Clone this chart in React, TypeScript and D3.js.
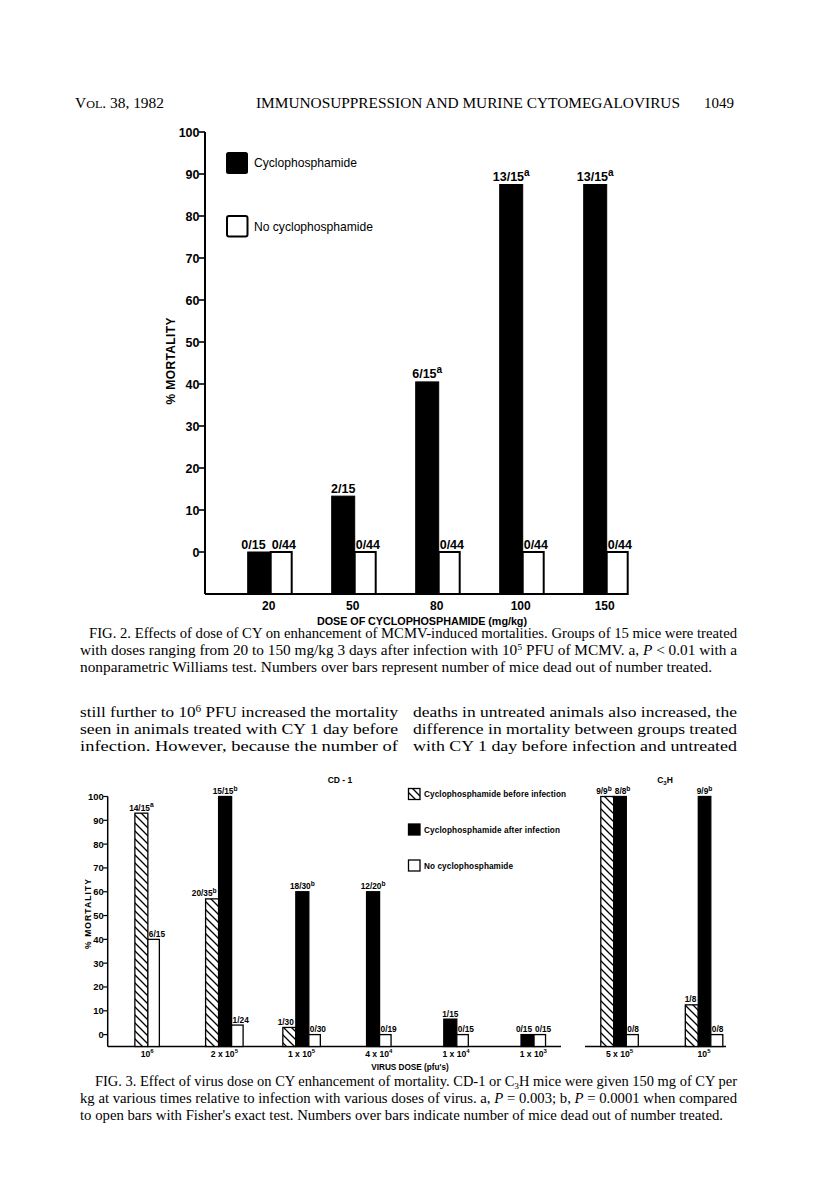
import React from "react";
import * as d3 from "d3";

const SANS = "'Liberation Sans', Arial, Helvetica, sans-serif";
const SERIF = "'Liberation Serif', 'Times New Roman', serif";

// ---------------- FIG. 2 data ----------------
const fig2Doses = ["20", "50", "80", "100", "150"];
const fig2CyValues = [0, 13.3, 40.5, 87.5, 87.5];
const fig2CyLabels = ["0/15", "2/15", "6/15", "13/15", "13/15"];
const fig2CySups = ["", "", "a", "a", "a"];
const fig2NoCyValues = [0, 0, 0, 0, 0];
const fig2NoCyLabels = ["0/44", "0/44", "0/44", "0/44", "0/44"];
const fig2NoCySups = ["", "", "", "", ""];
const fig2YTicks = [0, 10, 20, 30, 40, 50, 60, 70, 80, 90, 100];

// ---------------- FIG. 3 data ----------------
const cd1DoseBase = ["10", "2 x 10", "1 x 10", "4 x 10", "1 x 10", "1 x 10"];
const cd1DoseExp = ["6", "5", "5", "4", "4", "3"];
const cd1Before: (number | null)[] = [93, 57, 3, null, null, null];
const cd1BeforeLabels = ["14/15", "20/35", "1/30", "", "", ""];
const cd1BeforeSups = ["a", "b", "", "", "", ""];
const cd1After: (number | null)[] = [null, 100, 60, 60, 6.5, 0];
const cd1AfterLabels = ["", "15/15", "18/30", "12/20", "1/15", "0/15"];
const cd1AfterSups = ["", "b", "b", "b", "", ""];
const cd1None: (number | null)[] = [40, 4, 0, 0, 0, 0];
const cd1NoneLabels = ["6/15", "1/24", "0/30", "0/19", "0/15", "0/15"];
const cd1NoneSups = ["", "", "", "", "", ""];

const c3hDoseBase = ["5 x 10", "10"];
const c3hDoseExp = ["5", "5"];
const c3hBefore: (number | null)[] = [100, 12.5];
const c3hBeforeLabels = ["9/9", "1/8"];
const c3hBeforeSups = ["b", ""];
const c3hAfter: (number | null)[] = [100, 100];
const c3hAfterLabels = ["8/8", "9/9"];
const c3hAfterSups = ["b", "b"];
const c3hNone: (number | null)[] = [0, 0];
const c3hNoneLabels = ["0/8", "0/8"];
const c3hNoneSups = ["", ""];

const fig3YTicks = [0, 10, 20, 30, 40, 50, 60, 70, 80, 90, 100];

type Bar = {
  kind: string;
  value: number;
  label: string;
  sup: string;
  x0: number;
  x1: number;
};

function labelPos(bars: Bar[], i: number, gap: number) {
  const b = bars[i];
  const next = bars[i + 1];
  const prev = bars[i - 1];
  if (next && next.value >= b.value) return { x: b.x1 - gap, anchor: "end" };
  if (prev && prev.value >= b.value) return { x: b.x0 + 1, anchor: "start" };
  return { x: (b.x0 + b.x1) / 2, anchor: "middle" };
}

function Label({ x, y, anchor, text, sup, fs }: any) {
  return (
    <text x={x} y={y} textAnchor={anchor} fontFamily={SANS} fontWeight="bold" fontSize={fs}>
      {text}
      {sup ? (
        <tspan dy={-fs * 0.42} fontSize={fs * 0.8}>
          {sup}
        </tspan>
      ) : null}
    </text>
  );
}

// ---------------- FIG. 2 ----------------
function Fig2() {
  const y = d3.scaleLinear().domain([-10, 100]).range([594, 132]);
  const x = d3.scaleBand().domain(fig2Doses).range([228.7, 648.7]).padding(0);
  const axisX = 205;
  const fs = 12.5;
  const groups = fig2Doses.map((d, i) => {
    const c = (x(d) as number) + x.bandwidth() / 2;
    const bars: Bar[] = [
      { kind: "cy", value: fig2CyValues[i], label: fig2CyLabels[i], sup: fig2CySups[i], x0: c - 23, x1: c },
      { kind: "no", value: fig2NoCyValues[i], label: fig2NoCyLabels[i], sup: fig2NoCySups[i], x0: c, x1: c + 21 },
    ];
    return { d, c, bars };
  });
  const lastRight = groups[groups.length - 1].bars[1].x1;
  return (
    <g>
      <line x1={axisX} x2={axisX} y1={y(100)} y2={y(-10)} stroke="#000" strokeWidth={2} />
      {fig2YTicks.map((t) => (
        <g key={t}>
          <line x1={axisX - 6} x2={axisX} y1={y(t)} y2={y(t)} stroke="#000" strokeWidth={1.6} />
          <text x={axisX - 5.5} y={y(t)} dy="0.36em" textAnchor="end" fontFamily={SANS} fontWeight="bold" fontSize={fs}>
            {t}
          </text>
        </g>
      ))}
      <text
        transform={`translate(175,${361}) rotate(-90)`}
        textAnchor="middle"
        fontFamily={SANS}
        fontWeight="bold"
        fontSize={12}
        textLength={87}
        lengthAdjust="spacing"
      >
        % MORTALITY
      </text>
      {groups.map((g) =>
        g.bars.map((b) => (
          <rect
            key={g.d + b.kind}
            x={b.x0}
            y={y(b.value)}
            width={b.x1 - b.x0}
            height={y(-10) - y(b.value)}
            fill={b.kind === "cy" ? "#000" : "#fff"}
            stroke="#000"
            strokeWidth={b.kind === "cy" ? 1 : 2}
          />
        ))
      )}
      {groups.map((g) =>
        g.bars.map((b, j) => {
          const p = labelPos(g.bars, j, 5);
          return <Label key={"l" + g.d + b.kind} x={p.x} y={y(b.value) - 3.5} anchor={p.anchor} text={b.label} sup={b.sup} fs={fs} />;
        })
      )}
      <line x1={axisX} x2={lastRight} y1={y(-10)} y2={y(-10)} stroke="#000" strokeWidth={2} />
      {groups.map((g) => (
        <text key={"x" + g.d} x={g.c - 2} y={610} textAnchor="middle" fontFamily={SANS} fontWeight="bold" fontSize={12}>
          {g.d}
        </text>
      ))}
      <text x={422} y={624.5} textAnchor="middle" fontFamily={SANS} fontWeight="bold" fontSize={10.8} textLength={210} lengthAdjust="spacing">
        DOSE OF CYCLOPHOSPHAMIDE (mg/kg)
      </text>
      <rect x={226} y={152} width={22} height={22} rx={2.5} fill="#000" />
      <text x={254} y={163} dy="0.35em" fontFamily={SANS} fontSize={12.1} textLength={103} lengthAdjust="spacing">
        Cyclophosphamide
      </text>
      <rect x={227} y={216} width={20.5} height={20.5} rx={2} fill="#fff" stroke="#000" strokeWidth={2} />
      <text x={254} y={226.5} dy="0.35em" fontFamily={SANS} fontSize={12.1} textLength={119} lengthAdjust="spacing">
        No cyclophosphamide
      </text>
    </g>
  );
}

// ---------------- FIG. 3 ----------------
function buildGroups(
  band: d3.ScaleBand<string>,
  keys: string[],
  series: { kind: string; vals: (number | null)[]; labels: string[]; sups: string[]; w: number }[]
) {
  return keys.map((k, i) => {
    const c = (band(k) as number) + band.bandwidth() / 2;
    const present = series.filter((s) => s.vals[i] !== null);
    const total = d3.sum(present, (s) => s.w);
    let cur = c - total / 2;
    const bars: Bar[] = present.map((s) => {
      const b = { kind: s.kind, value: s.vals[i] as number, label: s.labels[i], sup: s.sups[i], x0: cur, x1: cur + s.w };
      cur += s.w;
      return b;
    });
    return { k, i, c, bars };
  });
}

function Fig3() {
  const y = d3.scaleLinear().domain([-5, 100]).range([1046.5, 796.5]);
  const base = y(-5);
  const leftKeys = cd1DoseBase.map((b, i) => b + "^" + cd1DoseExp[i] + "#" + i);
  const rightKeys = c3hDoseBase.map((b, i) => b + "^" + c3hDoseExp[i] + "#" + i);
  const xl = d3.scaleBand().domain(leftKeys).range([108.5, 571.9]).padding(0);
  const xr = d3.scaleBand().domain(rightKeys).range([577.3, 746.3]).padding(0);
  const leftGroups = buildGroups(xl, leftKeys, [
    { kind: "before", vals: cd1Before, labels: cd1BeforeLabels, sups: cd1BeforeSups, w: 13 },
    { kind: "after", vals: cd1After, labels: cd1AfterLabels, sups: cd1AfterSups, w: 13 },
    { kind: "none", vals: cd1None, labels: cd1NoneLabels, sups: cd1NoneSups, w: 11.5 },
  ]);
  const rightGroups = buildGroups(xr, rightKeys, [
    { kind: "before", vals: c3hBefore, labels: c3hBeforeLabels, sups: c3hBeforeSups, w: 13 },
    { kind: "after", vals: c3hAfter, labels: c3hAfterLabels, sups: c3hAfterSups, w: 12.5 },
    { kind: "none", vals: c3hNone, labels: c3hNoneLabels, sups: c3hNoneSups, w: 12 },
  ]);
  const axisX = 107.7;
  const fs = 8.3;
  const fill = (k: string) => (k === "after" ? "#000" : k === "before" ? "url(#hatch)" : "#fff");

  const renderGroups = (groups: any[], bases: string[], exps: string[]) =>
    groups.map((g: any) => (
      <g key={g.k}>
        {g.bars.map((b: Bar) => (
          <rect
            key={b.kind}
            x={b.x0}
            y={y(b.value)}
            width={b.x1 - b.x0}
            height={base - y(b.value)}
            fill={fill(b.kind)}
            stroke="#000"
            strokeWidth={1.3}
          />
        ))}
        {g.bars.map((b: Bar, j: number) => {
          const p = labelPos(g.bars, j, 2);
          return <Label key={"l" + b.kind} x={p.x} y={y(b.value) - 2.5} anchor={p.anchor} text={b.label} sup={b.sup} fs={fs} />;
        })}
        <text x={g.c} y={1056.5} textAnchor="middle" fontFamily={SANS} fontWeight="bold" fontSize={8.6}>
          {bases[g.i]}
          <tspan dy={-3.3} fontSize={6}>
            {exps[g.i]}
          </tspan>
        </text>
      </g>
    ));

  const leftEnd = 561;
  return (
    <g>
      <defs>
        <pattern id="hatch" patternUnits="userSpaceOnUse" width={8} height={8}>
          <rect width={8} height={8} fill="#fff" />
          <path d="M0,0 L8,8 M-2,6 L2,10 M6,-2 L10,2" stroke="#000" strokeWidth={1.3} />
        </pattern>
      </defs>
      <line x1={axisX} x2={axisX} y1={y(100)} y2={base} stroke="#000" strokeWidth={1.5} />
      {fig3YTicks.map((t) => (
        <g key={t}>
          <line x1={axisX - 4.5} x2={axisX} y1={y(t)} y2={y(t)} stroke="#000" strokeWidth={1.2} />
          <text x={axisX - 4} y={y(t)} dy="0.36em" textAnchor="end" fontFamily={SANS} fontWeight="bold" fontSize={9.4}>
            {t}
          </text>
        </g>
      ))}
      <text
        transform={`translate(91,914) rotate(-90)`}
        textAnchor="middle"
        fontFamily={SANS}
        fontWeight="bold"
        fontSize={8.5}
        textLength={70}
        lengthAdjust="spacing"
      >
        % MORTALITY
      </text>
      <line x1={axisX} x2={leftEnd} y1={base} y2={base} stroke="#000" strokeWidth={1.5} />
      <line x1={585} x2={726} y1={base} y2={base} stroke="#000" strokeWidth={1.5} />
      {renderGroups(leftGroups, cd1DoseBase, cd1DoseExp)}
      {renderGroups(rightGroups, c3hDoseBase, c3hDoseExp)}
      <text x={410} y={1069.5} textAnchor="middle" fontFamily={SANS} fontWeight="bold" fontSize={8.2}>
        VIRUS DOSE (pfu's)
      </text>
      <text x={340} y={783} textAnchor="middle" fontFamily={SANS} fontWeight="bold" fontSize={8.5}>
        CD - 1
      </text>
      <text x={665} y={783} textAnchor="middle" fontFamily={SANS} fontWeight="bold" fontSize={8.5}>
        C<tspan dy={2} fontSize={6}>3</tspan>
        <tspan dy={-2}>H</tspan>
      </text>
      <rect x={408.5} y={788.5} width={11.5} height={11} fill="url(#hatch)" stroke="#000" strokeWidth={1.3} />
      <text x={424} y={794} dy="0.35em" fontFamily={SANS} fontWeight="bold" fontSize={8.2} textLength={142} lengthAdjust="spacing">
        Cyclophosphamide before infection
      </text>
      <rect x={408.5} y={824} width={11.5} height={11} fill="#000" stroke="#000" strokeWidth={1.3} />
      <text x={424} y={830} dy="0.35em" fontFamily={SANS} fontWeight="bold" fontSize={8.2} textLength={136} lengthAdjust="spacing">
        Cyclophosphamide after infection
      </text>
      <rect x={408.5} y={860} width={11.5} height={11} fill="#fff" stroke="#000" strokeWidth={1.3} />
      <text x={424} y={866} dy="0.35em" fontFamily={SANS} fontWeight="bold" fontSize={8.2} textLength={89} lengthAdjust="spacing">
        No cyclophosphamide
      </text>
    </g>
  );
}

// ---------------- page text ----------------
function Line({ x, y, w, fs, children }: any) {
  return (
    <text x={x} y={y} fontFamily={SERIF} fontSize={fs} textLength={w} lengthAdjust="spacingAndGlyphs">
      {children}
    </text>
  );
}

function PageText() {
  const cfs = 14;
  const bfs = 15.3;
  return (
    <g>
      <Line x={75} y={108} w={89} fs={14}>
        V<tspan fontSize={11}>OL</tspan>. 38, 1982
      </Line>
      <Line x={256} y={108} w={424} fs={14}>
        IMMUNOSUPPRESSION AND MURINE CYTOMEGALOVIRUS
      </Line>
      <Line x={704} y={108} w={30} fs={14}>
        1049
      </Line>

      <Line x={89} y={637.5} w={648} fs={cfs}>
        FIG. 2. Effects of dose of CY on enhancement of MCMV-induced mortalities. Groups of 15 mice were treated
      </Line>
      <Line x={80} y={655} w={657} fs={cfs}>
        with doses ranging from 20 to 150 mg/kg 3 days after infection with 10
        <tspan dy={-5} fontSize={9}>5</tspan>
        <tspan dy={5}> PFU of MCMV. a, </tspan>
        <tspan fontStyle="italic">P</tspan> {"< 0.01 with a"}
      </Line>
      <Line x={80} y={672} w={632} fs={cfs}>
        nonparametric Williams test. Numbers over bars represent number of mice dead out of number treated.
      </Line>

      <Line x={80} y={717} w={318} fs={bfs}>
        still further to 10<tspan dy={-5} fontSize={10}>6</tspan>
        <tspan dy={5}> PFU increased the mortality</tspan>
      </Line>
      <Line x={80} y={734} w={318} fs={bfs}>
        seen in animals treated with CY 1 day before
      </Line>
      <Line x={80} y={751} w={318} fs={bfs}>
        infection. However, because the number of
      </Line>
      <Line x={413} y={717} w={324} fs={bfs}>
        deaths in untreated animals also increased, the
      </Line>
      <Line x={413} y={734} w={324} fs={bfs}>
        difference in mortality between groups treated
      </Line>
      <Line x={413} y={751} w={324} fs={bfs}>
        with CY 1 day before infection and untreated
      </Line>

      <Line x={95} y={1086} w={642} fs={cfs}>
        FIG. 3. Effect of virus dose on CY enhancement of mortality. CD-1 or C
        <tspan dy={3} fontSize={9}>3</tspan>
        <tspan dy={-3}>H mice were given 150 mg of CY per</tspan>
      </Line>
      <Line x={80} y={1103} w={657} fs={cfs}>
        kg at various times relative to infection with various doses of virus. a, <tspan fontStyle="italic">P</tspan>
        {" = 0.003; b, "}
        <tspan fontStyle="italic">P</tspan>
        {" = 0.0001 when compared"}
      </Line>
      <Line x={80} y={1120} w={643} fs={cfs}>
        to open bars with Fisher's exact test. Numbers over bars indicate number of mice dead out of number treated.
      </Line>
    </g>
  );
}

export default function App() {
  return (
    <svg
      width={816}
      height={1193}
      viewBox="0 0 816 1193"
      style={{ position: "absolute", left: 0, top: 0, background: "#fff" }}
    >
      <rect width={816} height={1193} fill="#fff" />
      <PageText />
      <Fig2 />
      <Fig3 />
    </svg>
  );
}
